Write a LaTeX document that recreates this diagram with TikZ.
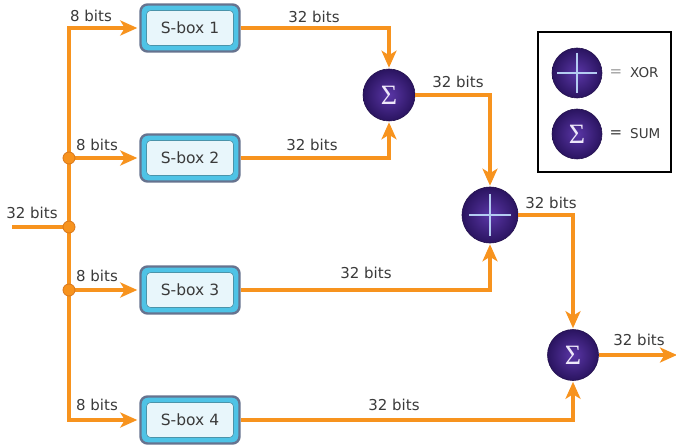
\documentclass[tikz,border=0pt]{standalone}
\usepackage{fontspec}
\setmainfont{DejaVu Sans}
\newfontfamily\sigfont{Liberation Serif}
\usetikzlibrary{arrows.meta,calc}
\definecolor{wirec}{HTML}{F7931E}
\definecolor{wiredk}{HTML}{D9771A}
\definecolor{txtc}{HTML}{3A3A3A}
\definecolor{boxedge}{HTML}{66738F}
\definecolor{boxband}{HTML}{4EC3E6}
\definecolor{boxfill}{HTML}{E8F6FB}
\definecolor{purin}{HTML}{5A36A6}
\definecolor{purout}{HTML}{2A1460}
\definecolor{crossc}{HTML}{B4CCF2}
\definecolor{sigc}{HTML}{EEE8FA}
\begin{document}
\begin{tikzpicture}[x=1pt,y=-1pt,
  conn/.style={draw=wirec, line width=3.6pt, line join=miter},
  tip/.style={-{Stealth[length=17pt,width=15pt,inset=4.5pt]}},
  lbl/.style={text=txtc, font=\fontsize{15}{17}\selectfont, inner sep=0pt},
  sbox/.style={rectangle, rounded corners=7pt, minimum width=99pt, minimum height=47pt,
    draw=boxedge, line width=2.4pt, fill=boxband, text=txtc,
    font=\fontsize{15.5}{17}\selectfont,
    path picture={\fill[boxfill, draw=boxband!70!black!90, line width=0.6pt, rounded corners=4pt]
      ([shift={(6pt,-6pt)}]path picture bounding box.north west) rectangle
      ([shift={(-6pt,6pt)}]path picture bounding box.south east);}},
  opnode/.style={circle, minimum size=#1, inner sep=0pt, inner color=purin, outer color=purout,
    draw=purout!80!black, line width=0.6pt},
  opnode/.default=52pt,
  sigtxt/.style={text=sigc, font=\sigfont\fontsize{28}{30}\selectfont},
  junc/.style={circle, minimum size=12pt, inner sep=0pt, fill=wirec, draw=wiredk, line width=0.8pt}
]
\useasboundingbox (0,0) rectangle (676,446);

% S-boxes
\node[sbox] (s1) at (190,28) {S-box 1};
\node[sbox] (s2) at (190,158) {S-box 2};
\node[sbox] (s3) at (190,290) {S-box 3};
\node[sbox] (s4) at (190,420) {S-box 4};

% operators
\node[opnode, sigtxt] (sum1) at (389,95) {Σ};
\node[opnode=56pt] (xor) at (490,215) {};
\draw[crossc, line width=2.2pt] ($(xor.center)+(-21,0)$) -- ($(xor.center)+(21,0)$)
  ($(xor.center)+(0,-21)$) -- ($(xor.center)+(0,21)$);
\node[opnode=51pt, sigtxt] (sum2) at (573,355) {Σ};

% trunk coordinates
\coordinate (tc) at (69,28);
\coordinate (bc) at (69,420);
\coordinate (j1) at (69,158);
\coordinate (j2) at (69,227);
\coordinate (j3) at (69,290);
\coordinate (inp) at (12,227);
\coordinate (outp) at (677,355);

% connectors
\draw[conn, {Stealth[length=17pt,width=15pt,inset=4.5pt]}-{Stealth[length=17pt,width=15pt,inset=4.5pt]}, shorten <=2pt, shorten >=2pt]
  (s1.west) -- (tc) -- (bc) -- (s4.west);
\draw[conn] (inp) -- (j2);
\draw[conn, tip, shorten >=2pt] (j1) -- (s2.west);
\draw[conn, tip, shorten >=2pt] (j3) -- (s3.west);

\draw[conn, tip, shorten >=1pt] (s1.east) -| (sum1.north);
\draw[conn, tip, shorten >=1pt] (s2.east) -| (sum1.south);
\draw[conn, tip, shorten >=1pt] (sum1.east) -| (xor.north);
\draw[conn, tip, shorten >=1pt] (s3.east) -| (xor.south);
\draw[conn, tip, shorten >=1pt] (xor.east) -| (sum2.north);
\draw[conn, tip, shorten >=1pt] (s4.east) -| (sum2.south);
\draw[conn, tip] (sum2.east) -- (outp);

% junction dots
\node[junc] (d1) at (j1) {};
\node[junc] (d2) at (j2) {};
\node[junc] (d3) at (j3) {};

% labels
\node[lbl] (l1) at (91,16) {8 bits};
\node[lbl] (l2) at (97,145) {8 bits};
\node[lbl] (l3) at (97,276) {8 bits};
\node[lbl] (l4) at (97,405) {8 bits};
\node[lbl] (l5) at (32,213) {32 bits};
\node[lbl] (l6) at (314,17) {32 bits};
\node[lbl] (l7) at (312,145) {32 bits};
\node[lbl] (l8) at (458,82) {32 bits};
\node[lbl] (l9) at (366,273) {32 bits};
\node[lbl] (l10) at (551,203) {32 bits};
\node[lbl] (l11) at (394,405) {32 bits};
\node[lbl] (l12) at (639,340) {32 bits};

% legend
\node[draw=black, line width=2.6pt, minimum width=133pt, minimum height=140pt, inner sep=0pt] (legend) at (604.5,102) {};
\node[opnode=50pt] (lxor) at (577,73) {};
\draw[crossc, line width=2.2pt] ($(lxor.center)+(-20,0)$) -- ($(lxor.center)+(20,0)$)
  ($(lxor.center)+(0,-20)$) -- ($(lxor.center)+(0,20)$);
\node[opnode=50pt, sigtxt] (lsum) at (577,134) {Σ};
\node[lbl, text=gray!80, font=\fontsize{15}{17}\selectfont] (eq1) at (616,73) {=};
\node[lbl, font=\fontsize{13.5}{15}\selectfont, anchor=west] (txor) at (630,73) {XOR};
\node[lbl, text=txtc, font=\fontsize{15}{17}\selectfont] (eq2) at (616,134) {=};
\node[lbl, font=\fontsize{13.5}{15}\selectfont, anchor=west] (tsum) at (630,134) {SUM};
\end{tikzpicture}
\end{document}
